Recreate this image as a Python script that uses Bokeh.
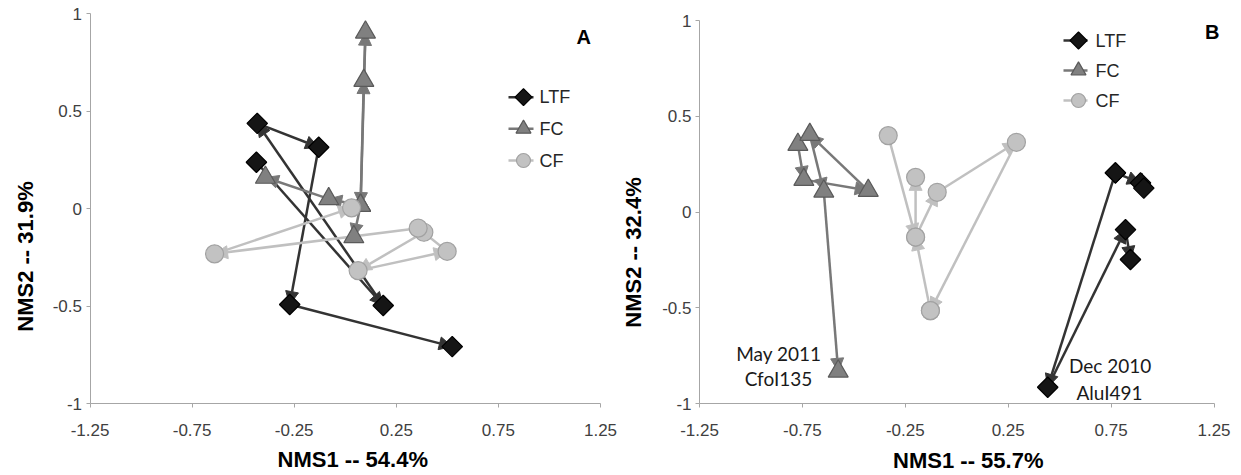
import math
import numpy as np
from bokeh.plotting import figure
from bokeh.layouts import row
from bokeh.models import Range1d, FixedTicker, Arrow, NormalHead, ColumnDataSource, Label
from bokeh.embed import file_html
from bokeh.resources import INLINE

nan = float("nan")

SERIES = ["LTF", "FC", "CF"]
X_TICKS = [-1.25, -0.75, -0.25, 0.25, 0.75, 1.25]
X_TICK_LABELS = ["-1.25", "-0.75", "-0.25", "0.25", "0.75", "1.25"]
Y_TICKS = [-1, -0.5, 0, 0.5, 1]
Y_TICK_LABELS = ["-1", "-0.5", "0", "0.5", "1"]
X_LIM = (-1.25, 1.25)
Y_LIM = (-1, 1)

# ---- Panel A (NMS ordination, paths in sampling order; nan = break) ----
A_LTF_x = [-0.435, 0.186, -0.431, -0.130, -0.272, 0.524]
A_LTF_y = [0.238, -0.497, 0.438, 0.315, -0.492, -0.708]
A_FC_x = [0.075, 0.091, 0.099, 0.075, -0.081, -0.391, nan, 0.075, 0.042]
A_FC_y = [0.016, 0.657, 0.905, 0.016, 0.050, 0.160, nan, 0.016, -0.145]
A_CF_x = [0.385, 0.063, 0.499, 0.357, -0.640, 0.031]
A_CF_y = [-0.121, -0.318, -0.219, -0.100, -0.232, 0.004]

# ---- Panel B ----
B_LTF_x = [0.771, 0.442, 0.820, 0.844, nan, 0.771, 0.893, 0.909]
B_LTF_y = [0.204, -0.915, -0.092, -0.248, nan, 0.204, 0.152, 0.125]
B_FC_x = [-0.772, -0.743, -0.430, -0.714, -0.646, -0.576]
B_FC_y = [0.352, 0.169, 0.112, 0.404, 0.108, -0.832]
B_CF_x = [-0.128, -0.200, -0.200, nan, -0.333, -0.200, -0.095, 0.290, -0.128]
B_CF_y = [-0.515, -0.131, 0.181, nan, 0.399, -0.131, 0.103, 0.364, -0.515]

PANEL_A = {"LTF": (A_LTF_x, A_LTF_y), "FC": (A_FC_x, A_FC_y), "CF": (A_CF_x, A_CF_y)}
PANEL_B = {"LTF": (B_LTF_x, B_LTF_y), "FC": (B_FC_x, B_FC_y), "CF": (B_CF_x, B_CF_y)}

A_XTITLE = "NMS1 -- 54.4%"
A_YTITLE = "NMS2 -- 31.9%"
B_XTITLE = "NMS1 -- 55.7%"
B_YTITLE = "NMS2 -- 32.4%"
B_NOTES = ["May 2011", "CfoI135", "Dec 2010", "AluI491"]

STYLE = {
    "LTF": dict(marker="square", angle=math.pi / 4, size=14.5, lsize=12, fill="#151515", edge="#000000", line="#333333"),
    "FC": dict(marker="triangle", angle=0.0, size=20, lsize=15, fill="#808080", edge="#5a5a5a", line="#787878"),
    "CF": dict(marker="circle", angle=0.0, size=18, lsize=14, fill="#c2c2c2", edge="#a2a2a2", line="#c0c0c0"),
}

FONT = "Liberation Sans"
CANVAS_W = 620
CANVAS_H = 474
PAGE_TOP = 0   # Bokeh's standalone page template has zero body margin


def segs(xs, ys):
    d = dict(x0=[], y0=[], x1=[], y1=[])
    for i in range(len(xs) - 1):
        vals = (xs[i], ys[i], xs[i + 1], ys[i + 1])
        if any(np.isnan(v) for v in vals):
            continue
        d["x0"].append(xs[i]); d["y0"].append(ys[i])
        d["x1"].append(xs[i + 1]); d["y1"].append(ys[i + 1])
    return ColumnDataSource(d)


def span(p0, p1, lim, c0, c1):
    """Range so that axis limits lim land on page pixels p0/p1 when the canvas spans c0..c1."""
    v0, v1 = lim
    k = (v1 - v0) / (p1 - p0)
    return Range1d(v0 + (c0 - p0) * k, v0 + (c1 - p0) * k)


def make_panel(data, page_left, axis_px, legend, texts):
    # axis_px: (x of -1.25, x of 1.25, y of -1, y of 1) in page pixels
    xl, xr, yb, yt = axis_px
    c_left, c_right = page_left, page_left + CANVAS_W
    c_top, c_bottom = PAGE_TOP, PAGE_TOP + CANVAS_H
    p = figure(width=CANVAS_W, height=CANVAS_H,
               x_range=span(xl, xr, X_LIM, c_left, c_right),
               y_range=span(yb, yt, Y_LIM, c_bottom, c_top),
               output_backend="svg", toolbar_location=None, min_border=0)
    # pixel-space helper ranges (page coordinates) for legend and text placement
    p.extra_x_ranges = {"px": Range1d(c_left, c_right)}
    p.extra_y_ranges = {"px": Range1d(c_bottom, c_top)}
    p.grid.visible = False
    p.outline_line_color = None
    p.background_fill_color = "white"
    p.border_fill_color = "white"

    p.xaxis.fixed_location = Y_LIM[0]
    p.yaxis.fixed_location = X_LIM[0]
    p.xaxis.bounds = X_LIM
    p.yaxis.bounds = Y_LIM
    p.xaxis.ticker = FixedTicker(ticks=X_TICKS)
    p.yaxis.ticker = FixedTicker(ticks=Y_TICKS)
    p.xaxis.major_label_overrides = {t: l for t, l in zip(X_TICKS, X_TICK_LABELS)}
    p.yaxis.major_label_overrides = {t: l for t, l in zip(Y_TICKS, Y_TICK_LABELS)}
    for ax in (p.xaxis, p.yaxis):
        ax.axis_line_color = "#a6a6a6"
        ax.major_tick_line_color = "#a6a6a6"
        ax.minor_tick_line_color = None
        ax.major_tick_in = 0
        ax.major_tick_out = 4
        ax.major_label_text_font = FONT
        ax.major_label_text_font_size = "17px"
        ax.major_label_text_color = "#404040"
    p.xaxis.major_label_standoff = 16
    p.yaxis.major_label_standoff = 4

    # connecting arrows (underneath markers)
    for s in SERIES:
        xs, ys = data[s]
        st = STYLE[s]
        p.add_layout(Arrow(source=segs(xs, ys), x_start="x0", y_start="y0", x_end="x1", y_end="y1",
                           line_color=st["line"], line_width=2.5, level="underlay",
                           end=NormalHead(size=13, fill_color=st["line"], line_color=st["line"], line_width=1)))
    for s in SERIES:
        xs, ys = data[s]
        st = STYLE[s]
        p.scatter(x=xs, y=ys, marker=st["marker"], angle=st["angle"], size=st["size"],
                  fill_color=st["fill"], line_color=st["edge"], line_width=1.2)

    # legend (page-pixel space)
    lx0, lx1, mx, tx, rows = legend
    for s, yy in zip(SERIES, rows):
        st = STYLE[s]
        p.segment(x0=[lx0], y0=[yy], x1=[lx1], y1=[yy], line_color=st["line"], line_width=2.5,
                  x_range_name="px", y_range_name="px")
        p.scatter(x=[mx], y=[yy], marker=st["marker"], angle=st["angle"], size=st["lsize"],
                  fill_color=st["fill"], line_color=st["edge"], line_width=1.2,
                  x_range_name="px", y_range_name="px")
        p.add_layout(Label(x=tx, y=yy, text=s, x_range_name="px", y_range_name="px",
                           text_font=FONT, text_font_size="18px", text_color="#262626",
                           text_baseline="middle", text_align="left"))

    for txt, (x, y), kind in texts:
        kw = dict(x=x, y=y, text=txt, x_range_name="px", y_range_name="px",
                  text_align="center", text_baseline="middle")
        if kind == "xt":
            kw.update(text_font=FONT, text_font_size="22px", text_font_style="bold", text_color="#000000")
        elif kind == "yt":
            kw.update(text_font=FONT, text_font_size="22px", text_font_style="bold", text_color="#000000",
                      angle=math.pi / 2)
        elif kind == "letter":
            kw.update(text_font=FONT, text_font_size="20px", text_font_style="bold", text_color="#000000")
        else:
            kw.update(text_font="Lato", text_font_size="19px", text_color="#1a1a1a")
        p.add_layout(Label(**kw))
    return p


pA = make_panel(PANEL_A, 0, (89.5, 600.0, 403.0, 13.3),
                (508, 533, 523, 539, (96.7, 128.3, 160.0)),
                [(A_XTITLE, (352.3, 459.0), "xt"), (A_YTITLE, (25, 256), "yt"), ("A", (583.3, 36.7), "letter")])
pB = make_panel(PANEL_B, CANVAS_W, (699.0, 1213.5, 403.0, 20.0),
                (1063, 1087, 1078, 1095, (40.0, 70.0, 100.0)),
                [(B_XTITLE, (967.8, 460.0), "xt"), (B_YTITLE, (633, 252), "yt"), ("B", (1211.7, 31.7), "letter"),
                 (B_NOTES[0], (778.3, 353.3), "note"), (B_NOTES[1], (778.0, 378.0), "note"),
                 (B_NOTES[2], (1109.7, 365.0), "note"), (B_NOTES[3], (1109.0, 391.7), "note")])

layout = row(pA, pB)
open("out.html", "w").write(file_html(layout, INLINE))
